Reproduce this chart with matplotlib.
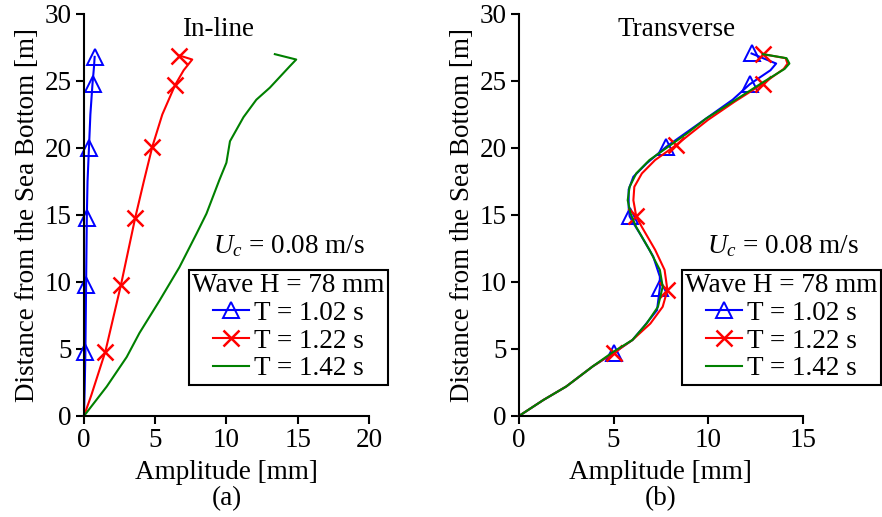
import numpy as np
import matplotlib
matplotlib.use("Agg")
import matplotlib.pyplot as plt

plt.rcParams['font.family'] = ['Liberation Serif', 'DejaVu Serif']
plt.rcParams['mathtext.fontset'] = 'custom'
plt.rcParams['mathtext.rm'] = 'Liberation Serif'
plt.rcParams['mathtext.it'] = 'Liberation Serif:italic'
plt.rcParams['font.size'] = 19.5

# ---- In-line amplitude profiles (x = amplitude mm, y = distance m)
inl_102_x = [0.0, 0.05, 0.1, 0.15, 0.2, 0.25, 0.35, 0.45, 0.6, 0.7, 0.75]
inl_102_y = [0.0, 2.0, 4.8, 9.8, 14.8, 17.5, 20.0, 22.5, 24.8, 26.0, 26.8]
inl_102_mk = [2, 3, 4, 6, 8, 10]

inl_122_x = [0.0, 0.5, 1.5, 2.6, 3.6, 4.2, 4.8, 5.5, 6.4, 7.0, 7.6, 6.7]
inl_122_y = [0.0, 1.5, 4.8, 9.8, 14.8, 17.5, 20.1, 22.5, 24.7, 25.8, 26.6, 26.9]
inl_122_mk = [2, 3, 4, 6, 8, 11]

inl_142_x = [0.0, 1.6, 3.0, 3.9, 5.3, 6.7, 7.9, 8.6, 9.5, 10.0, 10.25, 11.2, 12.1,
             13.05, 14.45, 14.9, 13.4]
inl_142_y = [0.0, 2.2, 4.4, 6.2, 8.6, 11.1, 13.6, 15.1, 17.6, 18.9, 20.5, 22.3, 23.6,
             24.5, 26.1, 26.6, 27.0]

# ---- Transverse amplitude profiles
trn_102_x = [0.0, 1.3, 2.5, 3.9, 5.0, 6.0, 6.6, 7.3, 7.45, 7.45, 7.1, 6.4, 6.05, 5.85,
             5.8, 5.8, 6.05, 6.75, 7.8, 8.9, 9.9, 11.3, 12.2, 13.3, 13.6, 12.3]
trn_102_y = [0.0, 1.2, 2.2, 3.7, 4.7, 5.67, 6.66, 7.9, 9.55, 10.4, 11.9, 13.6, 14.4, 14.9,
             15.6, 16.9, 17.85, 18.85, 20.1, 21.2, 22.2, 23.6, 24.75, 25.8, 26.3, 27.05]
trn_102_mk = [4, 8, 13, 18, 22, 25]

trn_122_x = [0.0, 1.3, 2.5, 3.9, 5.0, 6.0, 6.95, 7.6, 7.85, 7.7, 7.2, 6.5, 6.2, 6.05,
             6.1, 6.5, 7.2, 8.3, 9.1, 10.0, 11.4, 12.9, 14.0, 14.2, 14.1, 12.9]
trn_122_y = [0.0, 1.2, 2.2, 3.7, 4.7, 5.67, 6.9, 8.15, 9.4, 10.9, 12.4, 14.1, 14.9, 16.1,
             17.1, 18.1, 19.1, 20.2, 21.1, 22.1, 23.45, 24.8, 25.9, 26.3, 26.7, 27.0]
trn_122_mk = [4, 8, 12, 17, 21, 25]

trn_142_x = [0.0, 1.3, 2.5, 3.9, 5.0, 6.0, 6.75, 7.35, 7.6, 7.45, 6.9, 6.2, 5.9, 5.75,
             5.85, 6.2, 6.9, 7.9, 8.9, 9.9, 11.3, 12.9, 14.05, 14.3, 14.15, 12.9]
trn_142_y = [0.0, 1.2, 2.2, 3.7, 4.8, 5.67, 6.9, 8.15, 9.65, 10.9, 12.4, 14.1, 15.1, 16.1,
             17.1, 18.1, 19.1, 20.1, 21.1, 22.2, 23.45, 24.9, 25.9, 26.3, 26.7, 27.0]

labels = ['T = 1.02 s', 'T = 1.22 s', 'T = 1.42 s']


def style_axes(ax, xmax, xstep):
    ax.set_xlim(0, xmax)
    ax.set_ylim(0, 30)
    ax.set_xticks(np.arange(0, xmax + 0.1, xstep))
    ax.set_yticks(np.arange(0, 31, 5))
    for s in ['top', 'right']:
        ax.spines[s].set_visible(False)
    for s in ['left', 'bottom']:
        ax.spines[s].set_linewidth(1.5)
    ax.tick_params(direction='out', length=6, width=1.5, pad=3)
    ax.set_ylabel('Distance from the Sea Bottom [m]', labelpad=3)


def draw(ax, d102, d122, d142):
    ax.plot(d102[0], d102[1], color='blue', lw=1.5, marker='^', markevery=d102[2],
            markersize=11, markerfacecolor='none', markeredgewidth=1.4, label=labels[0],
            clip_on=False)
    ax.plot(d122[0], d122[1], color='red', lw=1.5, marker='x', markevery=d122[2],
            markersize=11, markeredgewidth=1.8, label=labels[1], clip_on=False)
    ax.plot(d142[0], d142[1], color='green', lw=1.5, label=labels[2], clip_on=False)


fig = plt.figure(figsize=(8.82, 5.17), dpi=100)
ax1 = fig.add_axes([0.0952, 0.1954, 0.323, 0.7776])
ax2 = fig.add_axes([0.5884, 0.1954, 0.3216, 0.7776])

draw(ax1, (inl_102_x, inl_102_y, inl_102_mk), (inl_122_x, inl_122_y, inl_122_mk),
     (inl_142_x, inl_142_y))
draw(ax2, (trn_102_x, trn_102_y, trn_102_mk), (trn_122_x, trn_122_y, trn_122_mk),
     (trn_142_x, trn_142_y))

style_axes(ax1, 20, 5)
style_axes(ax2, 15, 5)

panels = [(ax1, 'In-line', 218, 189, 289), (ax2, 'Transverse', 677, 682, 783)]
for ax, title, tx, lx, ux in panels:
    fig.text(tx / 882, 1 - 30 / 517, title, ha='center', va='center')
    fig.text(ux / 882, 1 - 246 / 517, '$U_c$ = 0.08 m/s', ha='center', va='center')
    leg = ax.legend(loc='upper left', bbox_to_anchor=(lx / 882, 1 - 270 / 517),
                    bbox_transform=fig.transFigure, title='Wave H = 78 mm',
                    title_fontsize=19.5, frameon=True, fancybox=False, framealpha=1,
                    edgecolor='black', handlelength=1.35, handletextpad=0.2,
                    borderpad=0.12, labelspacing=0.1, borderaxespad=0)
    leg.get_frame().set_linewidth(1.5)

ax1.set_xlabel('Amplitude [mm]\n(a)', labelpad=5, linespacing=1.05)
ax2.set_xlabel('Amplitude [mm]\n(b)', labelpad=5, linespacing=1.05)

fig.savefig('out.png', dpi=100)
